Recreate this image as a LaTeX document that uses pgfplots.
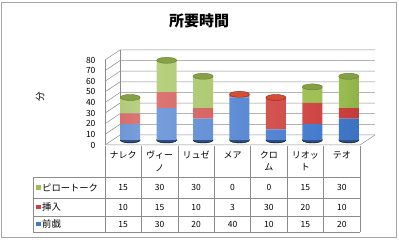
\documentclass[border=0pt]{standalone}
\usepackage{fontspec}
\setmainfont{Noto Sans CJK JP}
\usepackage{pgfplots}
\pgfplotsset{compat=1.18}
\definecolor{cgreen}{RGB}{155,190,80}
\definecolor{cred}{RGB}{205,65,62}
\definecolor{cblue}{RGB}{65,120,205}
\definecolor{gridc}{RGB}{140,140,140}
\pgfdeclarehorizontalshading{cylblue}{100bp}{color(0bp)=(cblue!85!black); color(30bp)=(cblue!70!white); color(70bp)=(cblue); color(100bp)=(cblue!60!black)}
\pgfdeclarehorizontalshading{cylred}{100bp}{color(0bp)=(cred!85!black); color(30bp)=(cred!70!white); color(70bp)=(cred); color(100bp)=(cred!60!black)}
\pgfdeclarehorizontalshading{cylgreen}{100bp}{color(0bp)=(cgreen!85!black); color(30bp)=(cgreen!70!white); color(70bp)=(cgreen); color(100bp)=(cgreen!60!black)}
\pgfplotsset{base/.style={
  at={(112pt,100pt)}, anchor=south west, scale only axis,
  width=255pt, height=85pt,
  xmin=-0.5, xmax=6.5, ymin=0, ymax=80,
  enlargelimits=false, clip=false,
  axis line style={draw=none}, xtick=\empty, ytick=\empty,
  major tick length=0pt,
}}
\begin{document}
\begin{tikzpicture}[x=1pt,y=1pt]
\useasboundingbox (0,0) rectangle (399,240);
\draw[gray!70, line width=0.8pt] (1.5,3) rectangle (396.5,238);
\node[font=\fontsize{15}{15}\selectfont\bfseries] at (199,219) {所要時間};
\node[font=\fontsize{9.5}{9.5}\selectfont, rotate=90] at (40,143) {分};
% walls, grid, bottom ellipses
\begin{axis}[base, ytick={0,10,...,80},
  yticklabel style={font=\fontsize{8.5}{8.5}\selectfont, xshift=-13pt, yshift=-5pt},
  /pgf/number format/assume math mode=true]
\pgfplotsinvokeforeach{0,10,...,80}{
 \draw[gridc, line width=0.5pt] ([xshift=-7pt,yshift=-5pt]axis cs:-0.5,#1) -- ([xshift=8pt,yshift=5pt]axis cs:-0.5,#1) -- ([xshift=8pt,yshift=5pt]axis cs:6.5,#1);
}
\draw[gridc, line width=0.5pt] ([xshift=-7pt,yshift=-5pt]axis cs:-0.5,0) -- ([xshift=-7pt,yshift=-5pt]axis cs:-0.5,80);
\draw[gridc, line width=0.5pt] ([xshift=8pt,yshift=5pt]axis cs:-0.5,0) -- ([xshift=8pt,yshift=5pt]axis cs:-0.5,80);
\draw[gridc, line width=0.5pt] ([xshift=-7pt,yshift=-5pt]axis cs:-0.5,0) -- ([xshift=-7pt,yshift=-5pt]axis cs:6.5,0) -- ([xshift=8pt,yshift=5pt]axis cs:6.5,0);
\addplot[only marks, mark=*, mark size=10pt, mark options={yscale=0.3, fill=cblue!65!black, draw=none}] coordinates {(0,0)(1,0)(2,0)(3,0)(4,0)(5,0)(6,0)};
\end{axis}
% stacked bars
\begin{axis}[base, ybar stacked, bar width=20pt]
\addplot[draw=none, shading=cylblue] coordinates {(0,15)(1,30)(2,20)(3,40)(4,10)(5,15)(6,20)};
\addplot[draw=none, shading=cylred] coordinates {(0,10)(1,15)(2,10)(3,3)(4,30)(5,20)(6,10)};
\addplot[draw=none, shading=cylgreen] coordinates {(0,15)(1,30)(2,30)(3,0)(4,0)(5,15)(6,30)};
\end{axis}
% cylinder tops
\begin{axis}[base]
\addplot[only marks, mark=*, mark size=10pt, mark options={yscale=0.3, fill=cgreen!85!black, draw=cgreen!65!black, line width=0.4pt}] coordinates {(0,40)(1,75)(2,60)(5,50)(6,60)};
\addplot[only marks, mark=*, mark size=10pt, mark options={yscale=0.3, fill=cred!80!orange, draw=cred!65!black, line width=0.4pt}] coordinates {(3,43)(4,40)};
\end{axis}
% data table
\def\cw{36.43}
\foreach \i in {0,...,7} {\draw[gridc, line width=0.5pt] ({105+\cw*\i},94) -- ({105+\cw*\i},8);}
\foreach \y in {63,42,23.5,8} {\draw[gridc, line width=0.5pt] (33,\y) -- (360,\y);}
\draw[gridc, line width=0.5pt] (33,63) -- (33,8);
\foreach \name [count=\i from 0] in {ナレク,{ヴィー\\ノ},リュゼ,メア,{クロ\\ム},{リオッ\\ト},テオ}
  {\node[anchor=north, align=center, font=\fontsize{9}{12.5}\selectfont, inner sep=0pt] at ({105+\cw*(\i+0.5)},89) {\name};}
\foreach \v [count=\i from 0] in {15,30,30,0,0,15,30}
  {\node[font=\fontsize{8.5}{8.5}\selectfont] at ({105+\cw*(\i+0.5)},52.5) {\v};}
\foreach \v [count=\i from 0] in {10,15,10,3,30,20,10}
  {\node[font=\fontsize{8.5}{8.5}\selectfont] at ({105+\cw*(\i+0.5)},32.75) {\v};}
\foreach \v [count=\i from 0] in {15,30,20,40,10,15,20}
  {\node[font=\fontsize{8.5}{8.5}\selectfont] at ({105+\cw*(\i+0.5)},15.75) {\v};}
\fill[cgreen] (36,50.3) rectangle (40.5,54.8);
\node[anchor=west, inner sep=0pt, font=\fontsize{9.3}{9.3}\selectfont] at (42,52.5) {ピロートーク};
\fill[cred] (36,30.5) rectangle (40.5,35);
\node[anchor=west, inner sep=0pt, font=\fontsize{9.3}{9.3}\selectfont] at (42,32.75) {挿入};
\fill[cblue] (36,13.5) rectangle (40.5,18);
\node[anchor=west, inner sep=0pt, font=\fontsize{9.3}{9.3}\selectfont] at (42,15.75) {前戯};
\end{tikzpicture}
\end{document}
